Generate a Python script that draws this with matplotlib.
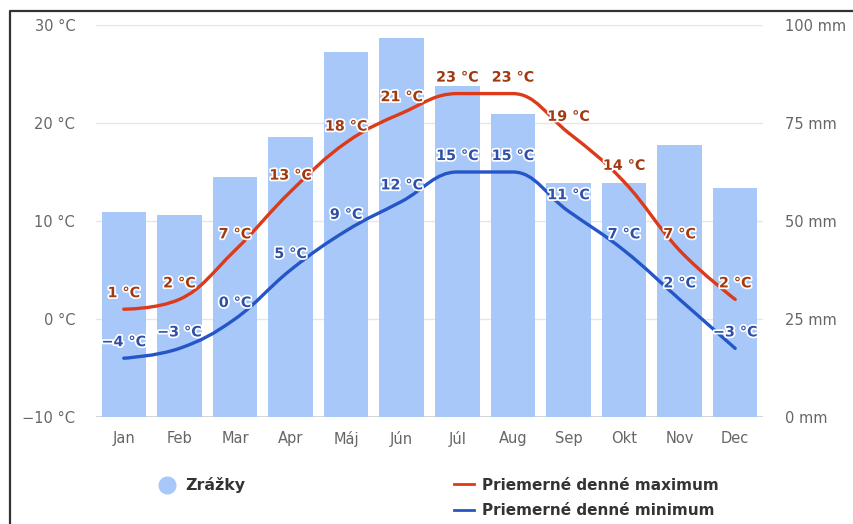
import numpy as np
import matplotlib.pyplot as plt
import matplotlib.patheffects as pe
from matplotlib.path import Path
from matplotlib.patches import PathPatch
from matplotlib.lines import Line2D

months = ['Jan', 'Feb', 'Mar', 'Apr', 'Máj', 'Jún', 'Júl', 'Aug', 'Sep', 'Okt', 'Nov', 'Dec']
precip_mm = [52.4, 51.6, 61.3, 71.5, 93.2, 96.6, 84.5, 77.3, 59.6, 59.6, 69.4, 58.5]
temp_max = [1, 2, 7, 13, 18, 21, 23, 23, 19, 14, 7, 2]
temp_min = [-4, -3, 0, 5, 9, 12, 15, 15, 11, 7, 2, -3]
left_ticks = [-10, 0, 10, 20, 30]
right_ticks = [0, 25, 50, 75, 100]

bar_color = '#a8c8fa'
max_line = '#dd3a1a'
min_line = '#2556c8'
max_text = '#a13a10'
min_text = '#2f50a8'


def spline_path(xs, ys, smoothing=1.5):
    # highcharts-like spline through the points, as cubic bezier segments
    n = len(xs)
    denom = smoothing + 1
    lc = [(xs[i], ys[i]) for i in range(n)]
    rc = [(xs[i], ys[i]) for i in range(n)]
    for i in range(1, n - 1):
        px, py = xs[i], ys[i]
        lx0, ly0 = xs[i - 1], ys[i - 1]
        nx, ny = xs[i + 1], ys[i + 1]
        lcx = (smoothing * px + lx0) / denom
        lcy = (smoothing * py + ly0) / denom
        rcx = (smoothing * px + nx) / denom
        rcy = (smoothing * py + ny) / denom
        corr = (rcy - lcy) * (rcx - px) / (rcx - lcx) + py - rcy
        lcy += corr
        rcy += corr
        if lcy > ly0 and lcy > py:
            lcy = max(ly0, py)
            rcy = 2 * py - lcy
        elif lcy < ly0 and lcy < py:
            lcy = min(ly0, py)
            rcy = 2 * py - lcy
        if rcy > ny and rcy > py:
            rcy = max(ny, py)
            lcy = 2 * py - rcy
        elif rcy < ny and rcy < py:
            rcy = min(ny, py)
            lcy = 2 * py - rcy
        lc[i] = (lcx, lcy)
        rc[i] = (rcx, rcy)
    verts = [(xs[0], ys[0])]
    codes = [Path.MOVETO]
    for i in range(1, n):
        verts += [rc[i - 1], lc[i], (xs[i], ys[i])]
        codes += [Path.CURVE4] * 3
    return Path(verts, codes)


fig = plt.figure(figsize=(8.54, 5.24), dpi=100)
ax = fig.add_axes([96 / 854, 1 - 417 / 524, (763 - 96) / 854, (417 - 25) / 524])
ax2 = ax.twinx()

x = np.arange(len(months))
ax2.bar(x, precip_mm, width=0.8, color=bar_color, zorder=1)
ax2.set_ylim(0, 100)
ax.set_ylim(-10, 30)
ax.set_xlim(-0.5, len(months) - 0.5)

# temperatures on top of bars
ax.set_zorder(ax2.get_zorder() + 1)
ax.patch.set_visible(False)
ax2.patch.set_visible(False)

for t in left_ticks:
    ax2.axhline((t + 10) * 2.5, color='#e6e6e6', lw=1, zorder=0)
ax2.axhline(0, color='#cfcfcf', lw=1.2, zorder=0)

for vals, lc_, tc in [(temp_max, max_line, max_text), (temp_min, min_line, min_text)]:
    p = spline_path(list(x.astype(float)), list(map(float, vals)))
    ax.add_patch(PathPatch(p, fill=False, edgecolor=lc_, lw=2.4, zorder=3, capstyle='round'))
    for xi, v in zip(x, vals):
        lbl = f'{v} °C'.replace('-', '−')
        ax.annotate(lbl, (xi, v), xytext=(0, 16), textcoords='offset pixels',
                    ha='center', va='center', fontsize=10.3, fontweight='bold', color=tc, zorder=4,
                    path_effects=[pe.withStroke(linewidth=2.5, foreground='white')])

for a in (ax, ax2):
    for s in a.spines.values():
        s.set_visible(False)

ax.set_yticks(left_ticks)
ax.set_yticklabels([f'{t} °C'.replace('-', '−') for t in left_ticks])
ax2.set_yticks(right_ticks)
ax2.set_yticklabels([f'{t} mm' for t in right_ticks])
ax.set_xticks(x)
ax.set_xticklabels(months)
ax.tick_params(axis='y', length=0, pad=15, labelsize=10.5, labelcolor='#666666')
ax2.tick_params(axis='y', length=0, pad=16, labelsize=10.5, labelcolor='#666666')
ax.tick_params(axis='x', length=0, pad=10, labelsize=10.5, labelcolor='#666666')

# legend
handles = [Line2D([], [], marker='o', ls='none', markersize=12, color=bar_color)]
fig.legend(handles, ['Zrážky'], loc='center left', bbox_to_anchor=(137 / 854, 1 - 485 / 524),
           frameon=False, handletextpad=0.2, prop={'weight': 'bold', 'size': 11.3}, labelcolor='#333333')
h2 = [Line2D([], [], color=max_line, lw=2), Line2D([], [], color=min_line, lw=2)]
fig.legend(h2, ['Priemerné denné maximum', 'Priemerné denné minimum'], loc='center left',
           bbox_to_anchor=(440 / 854, 1 - 498 / 524), frameon=False, handlelength=1.3,
           handletextpad=0.55, labelspacing=0.7, prop={'weight': 'bold', 'size': 11},
           labelcolor='#333333')

# screenshot frame (top and left edges)
fig.add_artist(Line2D([10 / 854, 10 / 854, 1], [0, 1 - 11 / 524, 1 - 11 / 524],
                      color='#333333', lw=1.6, transform=fig.transFigure))

fig.savefig('out.png', dpi=100)
